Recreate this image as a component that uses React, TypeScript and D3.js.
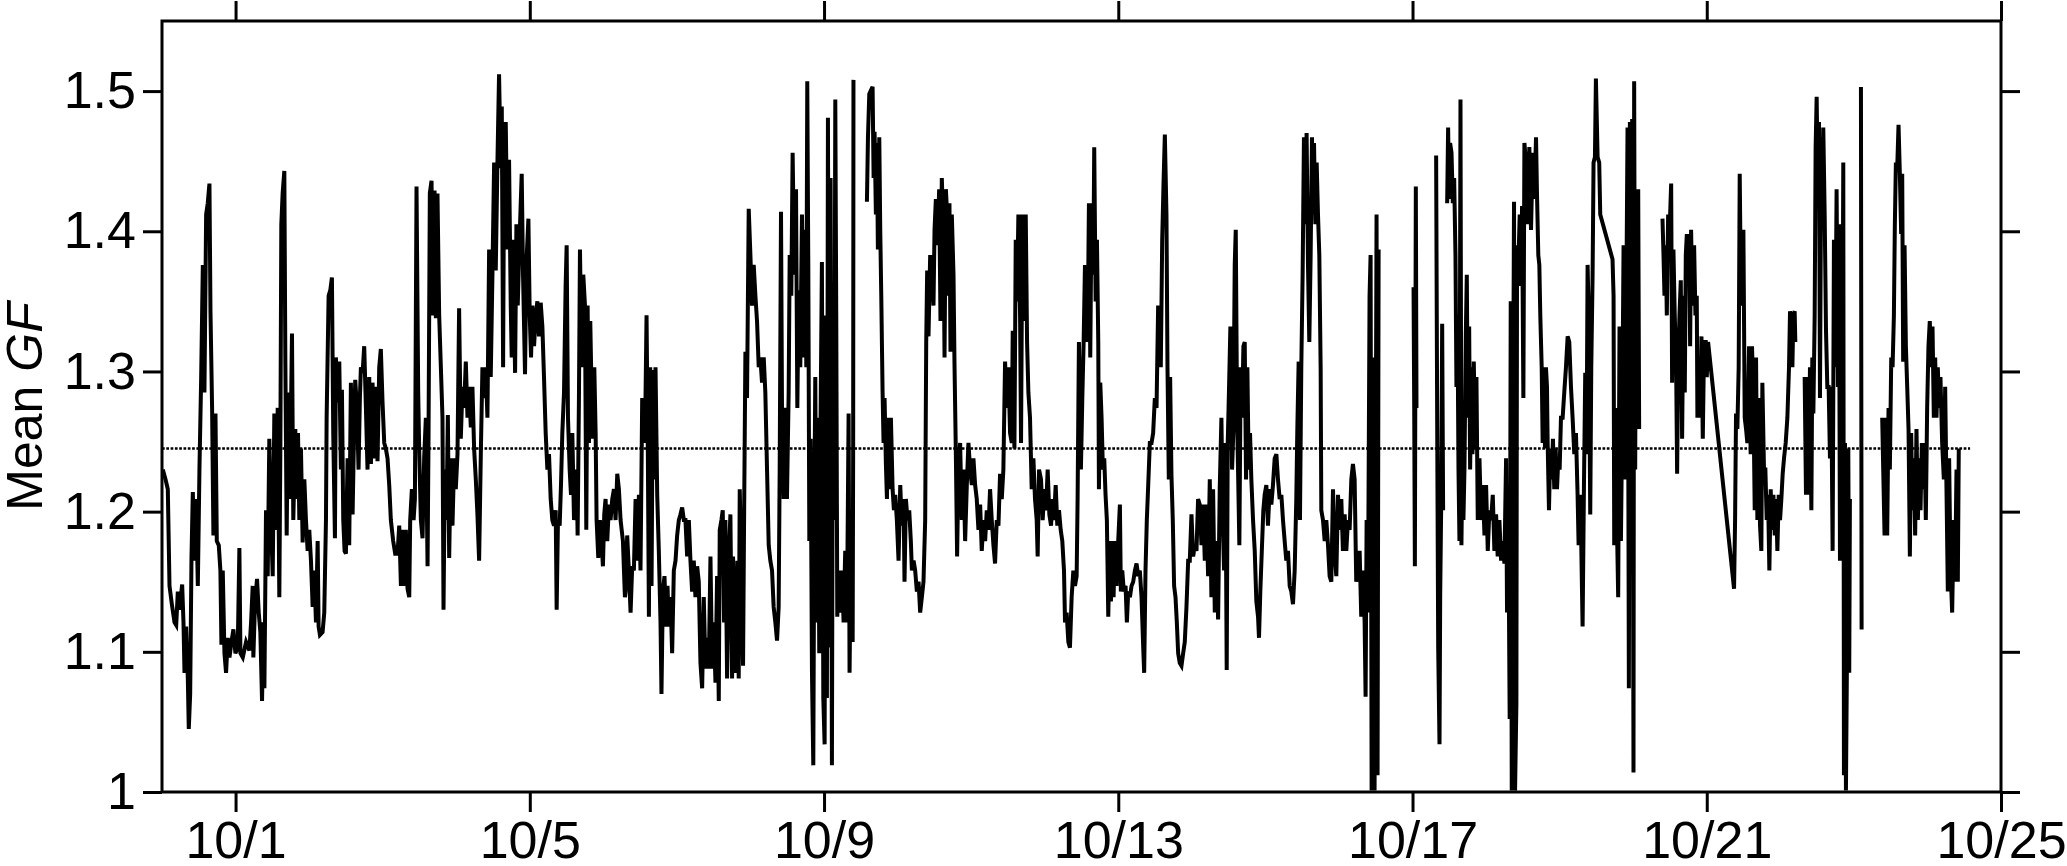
import { useEffect, useRef } from "react";
import * as d3 from "d3";

// [days since 9/30 00:00, mean GF]; null marks a gap in the record
type Pt = [number, number | null];

const YEAR = 2015;
const xTickLabels = ["10/1", "10/5", "10/9", "10/13", "10/17", "10/21", "10/25"];
const yTickValues = [1, 1.1, 1.2, 1.3, 1.4, 1.5];
const yTickLabels = ["1", "1.1", "1.2", "1.3", "1.4", "1.5"];
const meanGF = 1.245;
const meanLineEnd = 24.58;

const gfSep30: Pt[] = [
  [0.011, 1.23], [0.048, 1.223], [0.079, 1.216], [0.102, 1.147], [0.134, 1.134], [0.17, 1.121], [0.193, 1.119],
  [0.215, 1.143], [0.238, 1.13], [0.274, 1.148], [0.292, 1.121], [0.306, 1.085], [0.328, 1.118], [0.351, 1.081],
  [0.364, 1.045], [0.383, 1.07], [0.401, 1.168], [0.419, 1.214], [0.441, 1.165], [0.464, 1.209], [0.487, 1.147],
  [0.509, 1.23], [0.532, 1.294], [0.555, 1.376], [0.577, 1.285], [0.6, 1.412], [0.622, 1.42], [0.645, 1.434],
  [0.659, 1.343], [0.681, 1.274], [0.699, 1.183], [0.727, 1.27], [0.745, 1.179], [0.772, 1.176], [0.794, 1.158],
  [0.808, 1.105], [0.826, 1.158], [0.849, 1.099], [0.871, 1.085], [0.894, 1.11], [0.917, 1.096], [0.944, 1.107],
  [0.971, 1.116], [0.998, 1.099], [1.03, 1.103], [1.052, 1.174], [1.066, 1.099], [1.098, 1.096], [1.143, 1.107],
  [1.188, 1.101], [1.211, 1.121], [1.233, 1.147], [1.242, 1.096], [1.265, 1.136], [1.292, 1.152], [1.315, 1.128],
  [1.337, 1.114], [1.36, 1.065], [1.378, 1.121], [1.392, 1.074], [1.414, 1.201], [1.437, 1.154], [1.459, 1.252],
  [1.482, 1.194], [1.505, 1.154], [1.527, 1.27], [1.55, 1.187], [1.573, 1.274], [1.595, 1.139], [1.609, 1.245],
  [1.622, 1.405], [1.64, 1.427], [1.663, 1.443], [1.677, 1.307], [1.695, 1.183], [1.713, 1.285], [1.731, 1.209],
  [1.754, 1.274], [1.767, 1.327], [1.785, 1.194], [1.812, 1.259], [1.83, 1.209], [1.849, 1.256], [1.867, 1.194],
  [1.889, 1.245], [1.912, 1.178], [1.935, 1.223], [1.957, 1.194], [1.98, 1.172], [2.002, 1.187], [2.025, 1.165],
  [2.048, 1.132], [2.07, 1.158], [2.093, 1.121], [2.116, 1.179], [2.129, 1.118], [2.147, 1.112], [2.183, 1.114],
  [2.206, 1.128], [2.229, 1.194], [2.238, 1.267], [2.265, 1.354], [2.288, 1.358], [2.31, 1.367], [2.328, 1.256],
  [2.351, 1.181], [2.364, 1.31], [2.387, 1.278], [2.41, 1.307], [2.432, 1.23], [2.446, 1.287], [2.464, 1.194],
  [2.482, 1.172], [2.5, 1.17], [2.523, 1.238], [2.545, 1.176], [2.568, 1.292], [2.591, 1.198], [2.613, 1.263],
  [2.627, 1.294], [2.65, 1.274], [2.672, 1.23], [2.69, 1.281], [2.704, 1.303], [2.727, 1.299], [2.749, 1.318],
  [2.772, 1.274], [2.794, 1.23], [2.817, 1.296], [2.84, 1.234], [2.862, 1.292], [2.885, 1.238], [2.907, 1.289],
  [2.93, 1.236], [2.953, 1.303], [2.975, 1.316], [2.998, 1.278], [3.021, 1.249], [3.043, 1.245], [3.066, 1.238],
  [3.089, 1.219], [3.111, 1.194], [3.143, 1.179], [3.17, 1.17],
];

const gfOct3: Pt[] = [
  [3.202, 1.17], [3.225, 1.19], [3.248, 1.147], [3.27, 1.187], [3.293, 1.147], [3.315, 1.187], [3.338, 1.145],
  [3.361, 1.139], [3.374, 1.194], [3.397, 1.216], [3.42, 1.194], [3.438, 1.209], [3.46, 1.432], [3.483, 1.285],
  [3.496, 1.245], [3.519, 1.194], [3.542, 1.181], [3.564, 1.238], [3.587, 1.267], [3.61, 1.161], [3.623, 1.252],
  [3.641, 1.427], [3.664, 1.436], [3.687, 1.34], [3.705, 1.429], [3.723, 1.338], [3.745, 1.427], [3.768, 1.34],
  [3.791, 1.303], [3.813, 1.267], [3.827, 1.13], [3.845, 1.23], [3.868, 1.194], [3.886, 1.269], [3.904, 1.167],
  [3.926, 1.238], [3.949, 1.19], [3.972, 1.238], [3.994, 1.216], [4.017, 1.241], [4.039, 1.345], [4.062, 1.252],
  [4.085, 1.289], [4.107, 1.274], [4.13, 1.307], [4.153, 1.267], [4.175, 1.289], [4.198, 1.26], [4.22, 1.289],
  [4.243, 1.245], [4.266, 1.223], [4.288, 1.198], [4.311, 1.165], [4.334, 1.241], [4.356, 1.303], [4.379, 1.281],
  [4.401, 1.303], [4.424, 1.267], [4.447, 1.387], [4.469, 1.296], [4.492, 1.369], [4.515, 1.449], [4.537, 1.372],
  [4.56, 1.449], [4.582, 1.512], [4.605, 1.445], [4.619, 1.489], [4.637, 1.303], [4.65, 1.449], [4.673, 1.478],
  [4.696, 1.387], [4.718, 1.451], [4.741, 1.347], [4.754, 1.31], [4.772, 1.394], [4.8, 1.299], [4.818, 1.405],
  [4.836, 1.347], [4.863, 1.398], [4.89, 1.441], [4.908, 1.369], [4.935, 1.298], [4.953, 1.376], [4.981, 1.409],
  [4.999, 1.34], [5.017, 1.31], [5.035, 1.347], [5.058, 1.318], [5.08, 1.34], [5.103, 1.35], [5.125, 1.325],
  [5.148, 1.349], [5.171, 1.332], [5.193, 1.296], [5.216, 1.256], [5.239, 1.23], [5.261, 1.241], [5.284, 1.209],
  [5.306, 1.194], [5.329, 1.19], [5.352, 1.201], [5.365, 1.13], [5.383, 1.194], [5.406, 1.19], [5.424, 1.219],
  [5.442, 1.256], [5.465, 1.285], [5.487, 1.361], [5.501, 1.39], [5.519, 1.267], [5.542, 1.23], [5.56, 1.212],
  [5.578, 1.256], [5.601, 1.194], [5.623, 1.201], [5.637, 1.23], [5.65, 1.183], [5.668, 1.281], [5.682, 1.387],
  [5.705, 1.303], [5.727, 1.369], [5.75, 1.347], [5.768, 1.187], [5.786, 1.347], [5.804, 1.249], [5.822, 1.336],
  [5.84, 1.285], [5.858, 1.252], [5.877, 1.303], [5.895, 1.256], [5.908, 1.194], [5.931, 1.167], [5.953, 1.194],
  [5.976, 1.179], [5.994, 1.161], [6.012, 1.198], [6.03, 1.209], [6.053, 1.179], [6.076, 1.205], [6.098, 1.194],
  [6.121, 1.209], [6.144, 1.216], [6.166, 1.194], [6.189, 1.227], [6.211, 1.216], [6.234, 1.194], [6.266, 1.179],
  [6.293, 1.139],
];

const gfOct6: Pt[] = [
  [6.302, 1.143], [6.324, 1.183], [6.347, 1.158], [6.37, 1.128], [6.392, 1.161], [6.415, 1.158], [6.438, 1.209],
  [6.46, 1.165], [6.483, 1.212], [6.505, 1.158], [6.528, 1.281], [6.551, 1.249], [6.573, 1.281], [6.587, 1.34],
  [6.605, 1.241], [6.619, 1.125], [6.637, 1.303], [6.655, 1.147], [6.673, 1.301], [6.691, 1.223], [6.709, 1.303],
  [6.732, 1.212], [6.754, 1.172], [6.777, 1.121], [6.79, 1.07], [6.809, 1.143], [6.831, 1.154], [6.854, 1.118],
  [6.872, 1.147], [6.89, 1.118], [6.913, 1.139], [6.935, 1.099], [6.958, 1.158], [6.981, 1.165], [7.003, 1.183],
  [7.026, 1.194], [7.048, 1.198], [7.071, 1.203], [7.094, 1.194], [7.116, 1.194], [7.139, 1.168], [7.162, 1.194],
  [7.184, 1.165], [7.207, 1.143], [7.229, 1.165], [7.252, 1.139], [7.275, 1.161], [7.297, 1.15], [7.32, 1.092],
  [7.343, 1.074], [7.365, 1.139], [7.388, 1.088], [7.41, 1.11], [7.433, 1.088], [7.456, 1.168], [7.478, 1.088],
  [7.501, 1.121], [7.524, 1.078], [7.546, 1.154], [7.569, 1.065], [7.582, 1.187], [7.605, 1.194], [7.623, 1.201],
  [7.641, 1.121], [7.659, 1.194], [7.682, 1.081], [7.705, 1.167], [7.727, 1.198], [7.75, 1.081], [7.763, 1.168],
  [7.782, 1.125], [7.804, 1.085], [7.822, 1.165], [7.84, 1.081], [7.854, 1.216], [7.877, 1.158], [7.899, 1.09],
  [7.913, 1.194], [7.931, 1.314], [7.953, 1.281], [7.976, 1.416], [7.999, 1.383], [8.021, 1.347], [8.044, 1.376],
  [8.067, 1.354], [8.089, 1.336], [8.112, 1.303], [8.134, 1.31], [8.157, 1.292], [8.18, 1.31], [8.202, 1.285],
  [8.225, 1.23], [8.248, 1.176], [8.27, 1.165], [8.293, 1.158], [8.315, 1.132], [8.338, 1.121], [8.361, 1.108],
  [8.383, 1.132], [8.397, 1.23], [8.415, 1.414], [8.429, 1.267], [8.451, 1.209], [8.474, 1.274], [8.496, 1.209],
  [8.519, 1.285], [8.533, 1.383], [8.555, 1.354], [8.573, 1.456], [8.596, 1.369], [8.619, 1.43], [8.637, 1.274],
  [8.655, 1.358], [8.677, 1.303], [8.7, 1.412], [8.723, 1.31], [8.745, 1.401], [8.759, 1.303], [8.772, 1.507],
  [8.786, 1.376], [8.8, 1.179], [8.818, 1.252], [8.836, 1.085], [8.854, 1.019], [8.867, 1.194], [8.881, 1.296],
  [8.899, 1.121], [8.917, 1.267], [8.935, 1.099], [8.953, 1.267], [8.971, 1.378], [8.99, 1.067], [9.008, 1.034],
  [9.021, 1.34], [9.039, 1.067], [9.053, 1.481], [9.071, 1.103], [9.089, 1.438], [9.107, 1.019], [9.121, 1.321],
  [9.139, 1.194], [9.153, 1.494], [9.166, 1.34], [9.18, 1.125], [9.198, 1.158], [9.22, 1.128], [9.243, 1.158],
  [9.266, 1.121], [9.288, 1.172], [9.311, 1.121], [9.334, 1.27], [9.347, 1.085], [9.361, 1.158], [9.38, 1.194],
  [9.389, 1.107], [9.396, 1.249], [9.4, 1.508], [9.41, null],
];

const gfOct9: Pt[] = [
  [9.583, 1.421], [9.597, 1.467], [9.615, 1.498], [9.642, 1.501], [9.66, 1.503], [9.674, 1.438], [9.687, 1.471],
  [9.705, 1.412], [9.719, 1.463], [9.732, 1.387], [9.751, 1.467], [9.764, 1.401], [9.778, 1.354], [9.796, 1.285],
  [9.809, 1.249], [9.823, 1.281], [9.841, 1.234], [9.855, 1.209], [9.868, 1.267], [9.886, 1.216], [9.909, 1.267],
  [9.932, 1.216], [9.95, 1.201], [9.968, 1.212], [9.99, 1.194], [10.013, 1.165], [10.036, 1.219], [10.058, 1.19],
  [10.081, 1.209], [10.094, 1.15], [10.113, 1.209], [10.135, 1.194], [10.158, 1.201], [10.18, 1.179], [10.194, 1.158],
  [10.217, 1.165], [10.239, 1.158], [10.262, 1.143], [10.285, 1.15], [10.307, 1.128], [10.33, 1.139], [10.352, 1.15],
  [10.375, 1.194], [10.389, 1.321], [10.402, 1.372], [10.42, 1.325], [10.443, 1.383], [10.466, 1.369], [10.488, 1.347],
  [10.502, 1.401], [10.52, 1.423], [10.542, 1.39], [10.565, 1.43], [10.583, 1.336], [10.601, 1.438], [10.624, 1.398],
  [10.638, 1.31], [10.656, 1.43], [10.674, 1.412], [10.692, 1.354], [10.705, 1.42], [10.719, 1.314], [10.737, 1.412],
  [10.76, 1.369], [10.773, 1.307], [10.791, 1.245], [10.809, 1.168], [10.827, 1.23], [10.85, 1.249], [10.873, 1.194],
  [10.895, 1.23], [10.918, 1.179], [10.941, 1.219], [10.963, 1.249], [10.986, 1.23], [11.009, 1.219], [11.031, 1.238],
  [11.054, 1.219], [11.076, 1.209], [11.099, 1.187], [11.122, 1.205], [11.144, 1.172], [11.167, 1.194], [11.19, 1.179],
  [11.212, 1.201], [11.235, 1.187], [11.257, 1.216], [11.28, 1.194], [11.303, 1.176], [11.325, 1.163], [11.348, 1.194],
  [11.371, 1.19], [11.393, 1.227], [11.416, 1.209], [11.438, 1.23], [11.461, 1.307], [11.484, 1.274], [11.506, 1.303],
  [11.529, 1.256], [11.552, 1.249], [11.565, 1.329], [11.588, 1.245], [11.606, 1.394], [11.624, 1.35], [11.642, 1.412],
  [11.665, 1.34], [11.678, 1.249], [11.696, 1.412], [11.719, 1.336], [11.742, 1.412], [11.76, 1.321], [11.778, 1.285],
  [11.8, 1.267], [11.823, 1.216], [11.846, 1.238], [11.868, 1.209], [11.891, 1.194], [11.904, 1.168], [11.923, 1.23],
  [11.95, 1.223], [11.972, 1.194], [11.995, 1.216], [12.018, 1.201], [12.04, 1.23], [12.063, 1.198], [12.086, 1.19],
  [12.104, 1.209], [12.126, 1.194], [12.149, 1.219], [12.171, 1.19], [12.194, 1.201], [12.217, 1.187], [12.239, 1.179],
  [12.262, 1.158], [12.276, 1.121], [12.298, 1.128], [12.321, 1.107], [12.343, 1.103], [12.366, 1.139], [12.389, 1.158],
];

const gfOct12: Pt[] = [
  [12.411, 1.147], [12.434, 1.154], [12.447, 1.209], [12.465, 1.321], [12.492, 1.23], [12.511, 1.281], [12.529, 1.321],
  [12.547, 1.376], [12.569, 1.34], [12.583, 1.321], [12.601, 1.42], [12.619, 1.31], [12.637, 1.42], [12.66, 1.369],
  [12.673, 1.46], [12.692, 1.35], [12.71, 1.394], [12.728, 1.321], [12.737, 1.216], [12.755, 1.292], [12.773, 1.267],
  [12.791, 1.23], [12.809, 1.238], [12.827, 1.212], [12.845, 1.194], [12.864, 1.125], [12.882, 1.179], [12.9, 1.136],
  [12.918, 1.179], [12.936, 1.139], [12.954, 1.179], [12.977, 1.147], [12.999, 1.179], [13.022, 1.205], [13.035, 1.143],
  [13.054, 1.158], [13.076, 1.143], [13.099, 1.147], [13.117, 1.121], [13.135, 1.143], [13.158, 1.139], [13.18, 1.147],
  [13.203, 1.15], [13.226, 1.158], [13.248, 1.163], [13.271, 1.154], [13.293, 1.158], [13.316, 1.139], [13.339, 1.103],
  [13.352, 1.085], [13.37, 1.158], [13.388, 1.194], [13.407, 1.219], [13.429, 1.249], [13.452, 1.249], [13.474, 1.256],
  [13.497, 1.281], [13.52, 1.274], [13.542, 1.347], [13.565, 1.34], [13.578, 1.303], [13.597, 1.394], [13.615, 1.434],
  [13.633, 1.469], [13.655, 1.412], [13.669, 1.303], [13.687, 1.223], [13.705, 1.296], [13.723, 1.226], [13.741, 1.194],
  [13.759, 1.147], [13.778, 1.139], [13.796, 1.121], [13.814, 1.099], [13.836, 1.092], [13.859, 1.09], [13.882, 1.099],
  [13.904, 1.107], [13.927, 1.132], [13.95, 1.165], [13.972, 1.165], [13.995, 1.198], [14.018, 1.168], [14.04, 1.176],
  [14.063, 1.172], [14.085, 1.209], [14.108, 1.205], [14.131, 1.176], [14.153, 1.205], [14.176, 1.165], [14.198, 1.205],
  [14.221, 1.154], [14.244, 1.223], [14.266, 1.139], [14.289, 1.216], [14.312, 1.128], [14.334, 1.179], [14.357, 1.123],
  [14.379, 1.216], [14.402, 1.267], [14.42, 1.194], [14.438, 1.158], [14.456, 1.249], [14.474, 1.087], [14.488, 1.249],
  [14.506, 1.289], [14.524, 1.332], [14.547, 1.23], [14.565, 1.259], [14.583, 1.376], [14.597, 1.401], [14.615, 1.267],
  [14.628, 1.23], [14.646, 1.176], [14.664, 1.303], [14.683, 1.267], [14.701, 1.318], [14.719, 1.321], [14.737, 1.223],
  [14.755, 1.303], [14.773, 1.23], [14.791, 1.256], [14.809, 1.223], [14.832, 1.194], [14.855, 1.172], [14.877, 1.136],
  [14.9, 1.125], [14.913, 1.11], [14.931, 1.143], [14.954, 1.176], [14.972, 1.201], [14.99, 1.212], [15.013, 1.219],
  [15.035, 1.19], [15.058, 1.216], [15.081, 1.205], [15.103, 1.219], [15.126, 1.238], [15.149, 1.241], [15.171, 1.223],
  [15.194, 1.209], [15.217, 1.212], [15.239, 1.194], [15.262, 1.179], [15.284, 1.165], [15.307, 1.172], [15.33, 1.147],
  [15.352, 1.143], [15.375, 1.134], [15.398, 1.158], [15.42, 1.209], [15.434, 1.259], [15.452, 1.307], [15.47, 1.194],
  [15.488, 1.303], [15.506, 1.369], [15.524, 1.467], [15.542, 1.405], [15.56, 1.47], [15.579, 1.376], [15.597, 1.321],
  [15.615, 1.383], [15.633, 1.467], [15.651, 1.412],
];

const gfOct15: Pt[] = [
  [15.661, 1.463], [15.679, 1.405], [15.697, 1.449], [15.715, 1.412], [15.733, 1.383], [15.751, 1.303], [15.76, 1.201],
  [15.783, 1.194], [15.806, 1.179], [15.828, 1.194], [15.851, 1.176], [15.873, 1.154], [15.896, 1.15], [15.919, 1.216],
  [15.941, 1.172], [15.964, 1.154], [15.987, 1.212], [16.009, 1.187], [16.032, 1.209], [16.054, 1.172], [16.077, 1.198],
  [16.1, 1.172], [16.122, 1.194], [16.145, 1.187], [16.168, 1.223], [16.19, 1.234], [16.213, 1.223], [16.235, 1.15],
  [16.258, 1.158], [16.281, 1.172], [16.303, 1.125], [16.326, 1.158], [16.349, 1.121], [16.362, 1.068], [16.376, 1.194],
  [16.394, 1.128], [16.416, 1.354], [16.43, 1.383], [16.444, 1.001], [16.462, 1.121], [16.475, 1.31], [16.484, 1.001],
  [16.498, 1.194], [16.511, 1.412], [16.525, 1.012], [16.539, 1.387], [16.55, null],
  [17.014, 1.36], [17.023, 1.274], [17.032, 1.161], [17.045, 1.432], [17.054, 1.274], [17.06, null],
  [17.321, 1.454], [17.335, 1.267], [17.349, 1.103], [17.367, 1.034], [17.376, 1.139], [17.389, 1.201], [17.403, 1.334],
  [17.416, 1.201], [17.43, null],
  [17.471, 1.42], [17.484, 1.474], [17.498, 1.423], [17.511, 1.463], [17.53, 1.456], [17.548, 1.42], [17.566, 1.438],
  [17.584, 1.383], [17.597, 1.289], [17.611, 1.34], [17.625, 1.23], [17.638, 1.179], [17.652, 1.494], [17.665, 1.176],
  [17.679, 1.245], [17.692, 1.194], [17.706, 1.23], [17.724, 1.325], [17.738, 1.369], [17.751, 1.267], [17.77, 1.332],
  [17.783, 1.23], [17.801, 1.303], [17.815, 1.241], [17.833, 1.307], [17.851, 1.245], [17.869, 1.296], [17.887, 1.194],
  [17.91, 1.238], [17.932, 1.194], [17.955, 1.219], [17.978, 1.183], [18.0, 1.219], [18.023, 1.172], [18.045, 1.201],
  [18.068, 1.194], [18.091, 1.212], [18.113, 1.172], [18.136, 1.198], [18.158, 1.168], [18.181, 1.194], [18.204, 1.165],
  [18.226, 1.179], [18.249, 1.163], [18.272, 1.238], [18.285, 1.128], [18.303, 1.194], [18.321, 1.052], [18.335, 1.35],
  [18.349, 1.001], [18.367, 1.267], [18.38, 1.421], [18.394, 1.001], [18.412, 1.063], [18.421, 1.39], [18.439, 1.376],
  [18.457, 1.412], [18.475, 1.361], [18.489, 1.418], [18.507, 1.281], [18.521, 1.463], [18.543, 1.449], [18.566, 1.405],
  [18.588, 1.46], [18.611, 1.401], [18.634, 1.456], [18.656, 1.423],
];

const gfOct18: Pt[] = [
  [18.679, 1.467], [18.692, 1.427], [18.71, 1.383], [18.724, 1.376], [18.737, 1.34], [18.756, 1.303], [18.769, 1.249],
  [18.783, 1.303], [18.801, 1.245], [18.814, 1.303], [18.828, 1.289], [18.837, 1.249], [18.855, 1.201], [18.873, 1.245],
  [18.891, 1.223], [18.909, 1.252], [18.927, 1.216], [18.946, 1.245], [18.964, 1.216], [18.982, 1.238], [19.0, 1.23],
  [19.018, 1.267], [19.041, 1.267], [19.063, 1.285], [19.086, 1.303], [19.109, 1.325], [19.131, 1.321], [19.154, 1.289],
  [19.176, 1.267], [19.199, 1.241], [19.222, 1.256], [19.244, 1.212], [19.258, 1.176], [19.276, 1.212], [19.294, 1.176],
  [19.312, 1.118], [19.33, 1.216], [19.348, 1.299], [19.366, 1.241], [19.38, 1.376], [19.398, 1.332], [19.416, 1.198],
  [19.43, 1.303], [19.448, 1.369], [19.461, 1.449], [19.48, 1.453], [19.493, 1.509], [19.516, 1.453], [19.538, 1.449],
  [19.552, 1.412], [19.719, 1.38], [19.733, 1.354], [19.742, 1.176], [19.76, 1.274], [19.778, 1.194], [19.796, 1.139],
  [19.814, 1.332], [19.833, 1.179], [19.851, 1.267], [19.869, 1.39], [19.887, 1.223], [19.905, 1.34], [19.923, 1.474],
  [19.941, 1.074], [19.955, 1.478], [19.968, 1.158], [19.986, 1.48], [20.004, 1.014], [20.013, 1.507], [20.027, 1.23],
  [20.041, 1.43], [20.054, 1.303], [20.068, 1.43], [20.081, 1.259], [20.09, null],
  [20.398, 1.409], [20.412, 1.383], [20.425, 1.354], [20.443, 1.39], [20.457, 1.34], [20.475, 1.412], [20.489, 1.387],
  [20.502, 1.412], [20.516, 1.434], [20.529, 1.292], [20.547, 1.387], [20.565, 1.34], [20.584, 1.303], [20.597, 1.227],
  [20.611, 1.303], [20.629, 1.34], [20.647, 1.365], [20.665, 1.252], [20.683, 1.354], [20.701, 1.285], [20.715, 1.383],
  [20.729, 1.398], [20.747, 1.369], [20.76, 1.398], [20.774, 1.318], [20.787, 1.401], [20.805, 1.347], [20.828, 1.39],
  [20.846, 1.34], [20.864, 1.354], [20.873, 1.267], [20.891, 1.303], [20.909, 1.267], [20.928, 1.325], [20.946, 1.252],
  [20.964, 1.321], [20.986, 1.321], [21.0, 1.296], [21.018, 1.321], [21.371, 1.145], [21.385, 1.194], [21.398, 1.27],
  [21.416, 1.259], [21.434, 1.303], [21.448, 1.441], [21.466, 1.347], [21.484, 1.361], [21.498, 1.401], [21.516, 1.267],
  [21.534, 1.259], [21.552, 1.249], [21.575, 1.318], [21.597, 1.241], [21.615, 1.318], [21.633, 1.285], [21.652, 1.201],
  [21.67, 1.31], [21.688, 1.194], [21.706, 1.281], [21.724, 1.19], [21.742, 1.172], [21.756, 1.292], [21.778, 1.23],
];

const gfOct21: Pt[] = [
  [21.797, 1.23], [21.815, 1.194], [21.833, 1.212], [21.851, 1.158], [21.869, 1.216], [21.888, 1.187], [21.906, 1.212],
  [21.924, 1.183], [21.942, 1.209], [21.96, 1.172], [21.978, 1.212], [21.996, 1.194], [22.014, 1.209], [22.032, 1.227],
  [22.05, 1.238], [22.073, 1.249], [22.096, 1.267], [22.118, 1.303], [22.132, 1.343], [22.15, 1.321], [22.164, 1.303],
  [22.177, 1.34], [22.195, 1.343], [22.204, 1.321], [22.21, null],
  [22.331, 1.296], [22.349, 1.212], [22.367, 1.296], [22.385, 1.212], [22.403, 1.303], [22.422, 1.201], [22.435, 1.31],
  [22.449, 1.27], [22.467, 1.34], [22.48, 1.46], [22.494, 1.496], [22.512, 1.42], [22.526, 1.478], [22.539, 1.281],
  [22.557, 1.467], [22.571, 1.43], [22.584, 1.474], [22.603, 1.412], [22.621, 1.329], [22.639, 1.289], [22.657, 1.289],
  [22.675, 1.238], [22.693, 1.289], [22.711, 1.172], [22.729, 1.394], [22.747, 1.303], [22.765, 1.43], [22.783, 1.289],
  [22.797, 1.405], [22.811, 1.165], [22.829, 1.405], [22.842, 1.267], [22.856, 1.449], [22.865, 1.012], [22.879, 1.249],
  [22.892, 1.001], [22.91, 1.121], [22.924, 1.245], [22.937, 1.085], [22.946, 1.209], [22.95, null],
  [23.096, 1.503], [23.105, 1.116], [23.11, null],
  [23.385, 1.267], [23.399, 1.23], [23.417, 1.183], [23.435, 1.267], [23.453, 1.183], [23.471, 1.274], [23.489, 1.23],
  [23.508, 1.31], [23.526, 1.303], [23.544, 1.34], [23.557, 1.405], [23.571, 1.449], [23.589, 1.445], [23.607, 1.476],
  [23.625, 1.441], [23.643, 1.398], [23.657, 1.441], [23.67, 1.307], [23.689, 1.39], [23.707, 1.318], [23.725, 1.289],
  [23.743, 1.259], [23.761, 1.168], [23.779, 1.256], [23.797, 1.201], [23.815, 1.238], [23.833, 1.183], [23.851, 1.259],
  [23.87, 1.194], [23.888, 1.238], [23.906, 1.201], [23.924, 1.249], [23.942, 1.216], [23.96, 1.249], [23.978, 1.194],
  [23.996, 1.274], [24.014, 1.318], [24.032, 1.336], [24.051, 1.303], [24.069, 1.332], [24.087, 1.267], [24.105, 1.31],
  [24.123, 1.267], [24.141, 1.303], [24.159, 1.274], [24.177, 1.296], [24.2, 1.249], [24.223, 1.223], [24.241, 1.289],
  [24.259, 1.216], [24.277, 1.143], [24.295, 1.238], [24.313, 1.161], [24.336, 1.128], [24.358, 1.194], [24.376, 1.15],
  [24.395, 1.23], [24.413, 1.15], [24.426, 1.245],
];

const series: Pt[] = [
  ...gfSep30, ...gfOct3, ...gfOct6, ...gfOct9, ...gfOct12, ...gfOct15, ...gfOct18, ...gfOct21,
];

const W = 2067;
const H = 866;
const left = 162;
const right = 2001;
const top = 21;
const bottom = 792;
const FONT = "'Liberation Sans', Arial, Helvetica, sans-serif";

const start = Date.UTC(YEAR, 8, 30);
const dayToDate = (d: number) => new Date(start + d * 864e5);
const xTicks = xTickLabels.map((l) => {
  const [m, d] = l.split("/").map(Number);
  return new Date(Date.UTC(YEAR, m - 1, d));
});

export default function App() {
  const ref = useRef<SVGSVGElement>(null);

  const x = d3.scaleUtc().domain([dayToDate(0), dayToDate(25)]).range([left, right]);
  const y = d3.scaleLinear().domain([1, 1.55]).range([bottom, top]);

  const line = d3
    .line<Pt>()
    .defined((d) => d[1] !== null)
    .x((d) => x(dayToDate(d[0])))
    .y((d) => y(d[1] as number));

  useEffect(() => {
    const svg = d3.select(ref.current);
    const style = (g: any) => {
      g.select(".domain").remove();
      g.selectAll("line").attr("stroke", "#000").attr("stroke-width", 3);
      g.attr("font-family", FONT).attr("font-size", 52);
      g.selectAll("text").attr("fill", "#000");
    };

    svg
      .select<SVGGElement>(".x-bottom")
      .call(
        d3.axisBottom(x).tickValues(xTicks).tickFormat((_, i) => xTickLabels[i])
          .tickSize(20).tickSizeOuter(0).tickPadding(9)
      )
      .call(style);
    svg
      .select<SVGGElement>(".x-top")
      .call(d3.axisTop(x).tickValues(xTicks).tickFormat(() => "").tickSize(20).tickSizeOuter(0))
      .call(style);
    svg
      .select<SVGGElement>(".y-left")
      .call(
        d3.axisLeft(y).tickValues(yTickValues).tickFormat((_, i) => yTickLabels[i])
          .tickSize(19).tickSizeOuter(0).tickPadding(7)
      )
      .call(style);
    svg
      .select<SVGGElement>(".y-right")
      .call(d3.axisRight(y).tickValues(yTickValues).tickFormat(() => "").tickSize(19).tickSizeOuter(0))
      .call(style);
  }, []);

  return (
    <svg ref={ref} width={W} height={H} style={{ position: "absolute", left: 0, top: 0, background: "#fff" }}>
      <line
        x1={x(dayToDate(0))}
        x2={x(dayToDate(meanLineEnd))}
        y1={y(meanGF)}
        y2={y(meanGF)}
        stroke="#000"
        strokeWidth={2.5}
        strokeDasharray="2.7 1.6"
      />
      <path d={line(series) ?? ""} fill="none" stroke="#000" strokeWidth={4} />
      <rect x={left} y={top} width={right - left} height={bottom - top} fill="none" stroke="#000" strokeWidth={3} />
      <g className="x-bottom" transform={`translate(0,${bottom})`} />
      <g className="x-top" transform={`translate(0,${top})`} />
      <g className="y-left" transform={`translate(${left},0)`} />
      <g className="y-right" transform={`translate(${right},0)`} />
      <text
        transform={`translate(42,${(top + bottom) / 2}) rotate(-90)`}
        textAnchor="middle"
        fontFamily={FONT}
        fontSize={50}
        fill="#000"
      >
        Mean <tspan fontStyle="italic">GF</tspan>
      </text>
    </svg>
  );
}
